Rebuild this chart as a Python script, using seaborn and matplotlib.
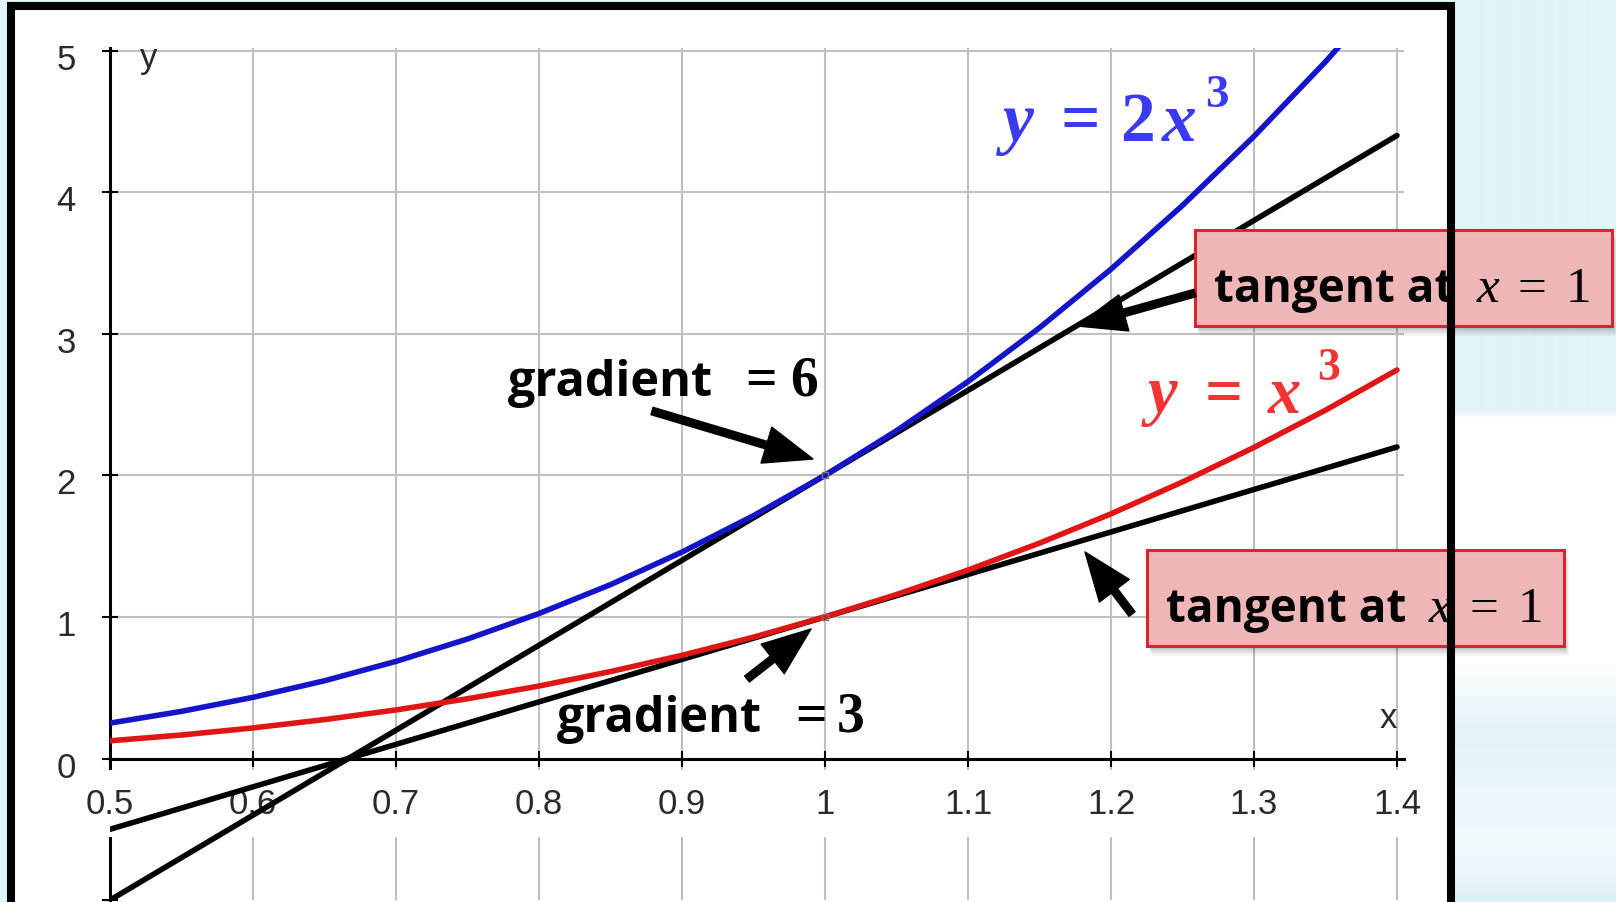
import numpy as np
import matplotlib
matplotlib.use("Agg")
import matplotlib.pyplot as plt
import seaborn as sns
from matplotlib.colors import to_rgb
from matplotlib.patches import Rectangle, FancyArrowPatch
from matplotlib.transforms import ScaledTranslation

# ---- data -------------------------------------------------------------
x_vals = [0.50, 0.55, 0.60, 0.65, 0.70, 0.75, 0.80, 0.85, 0.90, 0.95, 1.00,
          1.05, 1.10, 1.15, 1.20, 1.25, 1.30, 1.35, 1.40]
y_cube = [0.125, 0.166, 0.216, 0.275, 0.343, 0.422, 0.512, 0.614, 0.729, 0.857, 1.000,
          1.158, 1.331, 1.521, 1.728, 1.953, 2.197, 2.460, 2.744]
y_twice_cube = [0.250, 0.333, 0.432, 0.549, 0.686, 0.844, 1.024, 1.228, 1.458, 1.715, 2.000,
                2.315, 2.662, 3.042, 3.456, 3.906, 4.394, 4.921, 5.488]
tangent_x = [0.5, 1.4]
tangent_twice_cube = [-1.0, 4.4]   # y = 6x - 4, gradient 6 at x = 1
tangent_cube = [-0.5, 2.2]         # y = 3x - 2, gradient 3 at x = 1
touch_x = [1.0, 1.0]
touch_y = [2.0, 1.0]

x_ticks = [0.5, 0.6, 0.7, 0.8, 0.9, 1.0, 1.1, 1.2, 1.3, 1.4]
x_tick_labels = ["0.5", "0.6", "0.7", "0.8", "0.9", "1", "1.1", "1.2", "1.3", "1.4"]
y_ticks = [-1, 0, 1, 2, 3, 4, 5]
y_tick_labels = ["", "0", "1", "2", "3", "4", "5"]

# ---- style ------------------------------------------------------------
sns.set_theme(style="white")
plt.rcParams["font.family"] = ["Liberation Sans", "DejaVu Sans"]

W, H = 1616, 903
fig = plt.figure(figsize=(W / 100, H / 100), dpi=100)
fig.patch.set_facecolor("#e2f3f9")


def fxy(px, py):
    return px / W, 1 - py / H


# ---- slide background and white frame ---------------------------------
bg = fig.add_axes([0, 0, 1, 1], zorder=-10)
bg.set_xlim(0, W)
bg.set_ylim(H, 0)
bg.axis("off")
stops = [(0, "#e2f3f9"), (412, "#e2f3f9"), (418, "#ffffff"), (660, "#ffffff"),
         (730, "#e3f3f9"), (790, "#e9f6fb"), (850, "#f2fafd"), (885, "#e5f4f9"),
         (903, "#d9eff6")]
rows = np.arange(H)
pos = [s[0] for s in stops]
cols = np.array([to_rgb(s[1]) for s in stops])
profile = np.stack([np.interp(rows, pos, cols[:, k]) for k in range(3)], axis=-1)[:, None, :]
bg.imshow(profile, extent=[1452, W, H, 0], aspect="auto", interpolation="bilinear")
bg.add_patch(Rectangle((11, 7), 1450.5 - 11, 910 - 7, facecolor="white", edgecolor="none"))

# ---- main axes ----------------------------------------------------------
x_right = 1.405
left_px, right_px = 110, 1397 + 0.005 * 1430
top_px, bot_px = 48.7, 901.1
ax = fig.add_axes([left_px / W, 1 - bot_px / H, (right_px - left_px) / W, (bot_px - top_px) / H])
ax.patch.set_visible(False)

sns.lineplot(x=tangent_x, y=tangent_twice_cube, color="black", linewidth=4.0, ax=ax, zorder=3)
sns.lineplot(x=tangent_x, y=tangent_cube, color="black", linewidth=4.0, ax=ax, zorder=3)
sns.lineplot(x=x_vals, y=y_twice_cube, color="#1414c8", linewidth=4.0, ax=ax, zorder=4)
sns.lineplot(x=x_vals, y=y_cube, color="#e01616", linewidth=4.0, ax=ax, zorder=4)
ax.plot(touch_x, touch_y, "s", ms=5, mfc="none", mec="#777777", mew=1.0, zorder=6)

ax.set_xlim(0.5, x_right)
ax.set_ylim(-1.0, 5.02)
ax.set_xlabel("")
ax.set_ylabel("")

for s in ["top", "right"]:
    ax.spines[s].set_visible(False)
ax.spines["bottom"].set_position(("data", 0))
for s in ["left", "bottom"]:
    ax.spines[s].set_color("black")
    ax.spines[s].set_linewidth(2.2)
    ax.spines[s].set_zorder(0.4)

ax.set_xticks(x_ticks, labels=x_tick_labels)
ax.set_yticks(y_ticks, labels=y_tick_labels)
ax.grid(True, color="#c0c0c0", linewidth=1.5)
ax.tick_params(axis="x", direction="inout", length=11, width=1.5, pad=15,
               labelsize=25, labelcolor="#2a2a2a", color="black", bottom=True)
ax.tick_params(axis="y", direction="inout", length=11, width=1.5, pad=19,
               labelsize=25, labelcolor="#2a2a2a", color="black", left=True)

for t, v in zip(ax.xaxis.get_major_ticks(), x_ticks):
    if v == 0.5:
        t.gridline.set_visible(False)
for t, v in zip(ax.yaxis.get_major_ticks(), y_ticks):
    if v <= 0:
        t.gridline.set_visible(False)

for lbl in ax.get_xticklabels():
    lbl.set_bbox(dict(boxstyle="square,pad=0.5", fc="white", ec="none"))
shift = ScaledTranslation(0, -5 / 100, fig.dpi_scale_trans)
for lbl in ax.get_yticklabels():
    lbl.set_transform(lbl.get_transform() + shift)

ax.text(0.527, 4.95, "y", ha="center", va="center", fontsize=25, color="#2a2a2a")
ax.text(1.394, 0.29, "x", ha="center", va="center", fontsize=25, color="#2a2a2a")


# ---- annotations ---------------------------------------------------------
def put(px, py, s, z=21, **kw):
    x, y = fxy(px, py)
    fig.text(x, y, s, ha="left", va="baseline", zorder=z, **kw)


def arrow(p0, p1):
    fig.add_artist(FancyArrowPatch(fxy(*p0), fxy(*p1), transform=fig.transFigure,
                                   arrowstyle="simple,head_length=3.5,head_width=2.7,tail_width=0.55",
                                   mutation_scale=10, color="black", shrinkA=0, shrinkB=0,
                                   zorder=20))


serif = "Liberation Serif"
comic = "Open Sans"

# curve labels
blue = "#3a3af0"
put(1003, 141, "y", family=serif, style="italic", weight="bold", size=50, color=blue)
put(1060, 141, "=", family=serif, weight="bold", size=50, color=blue)
put(1120, 141, "2", family=serif, weight="bold", size=50, color=blue)
put(1162, 141, "x", family=serif, style="italic", weight="bold", size=50, color=blue)
put(1205, 107, "3", family=serif, weight="bold", size=34, color=blue)

red = "#f23434"
put(1148, 413, "y", family=serif, style="italic", weight="bold", size=48, color=red)
put(1205, 413, "=", family=serif, weight="bold", size=48, color=red)
put(1268, 413, "x", family=serif, style="italic", weight="bold", size=48, color=red)
put(1317, 380, "3", family=serif, weight="bold", size=33, color=red)

# gradient labels
put(508, 396, "gradient", family=comic, weight="bold", size=35, color="black")
put(745, 396, "=", family=serif, weight="bold", size=40, color="black")
put(790, 396, "6", family=serif, weight="bold", size=40, color="black")
arrow((652, 412), (813, 460))

put(557, 732, "gradient", family=comic, weight="bold", size=35, color="black")
put(795, 732, "=", family=serif, weight="bold", size=40, color="black")
put(837, 732, "3", family=serif, weight="bold", size=40, color="black")
arrow((747, 680), (811, 630))


def tangent_box(left, top):
    w, h = 417, 96
    for k, a in [(10, 0.04), (8, 0.05), (6, 0.06), (4, 0.07)]:
        fig.add_artist(Rectangle(fxy(left + 0.5 * k, top + h + k), w / W, h / H,
                                 transform=fig.transFigure, fc="black", ec="none",
                                 alpha=a, zorder=18))
    fig.add_artist(Rectangle(fxy(left, top + h), w / W, h / H, transform=fig.transFigure,
                             fc="#efb6b7", ec="#d92530", lw=2.2, zorder=19))
    base = top + 71
    put(left + 19, base, "tangent at", family=comic, weight="bold", size=33, color="black")
    put(left + 282, base, "x", family=serif, style="italic", size=37, color="black")
    put(left + 323, base, "=", family=serif, size=37, color="black")
    put(left + 370, base, "1", family=serif, size=37, color="black")


tangent_box(1195, 231)
arrow((1195, 294), (1077, 327))
tangent_box(1147, 551)
arrow((1132, 615), (1085, 553))

# dark slide frame drawn over everything
fig.add_artist(Rectangle(fxy(11, 905), (1450.5 - 11) / W, (905 - 7) / H,
                         transform=fig.transFigure, fc="none", ec="black", lw=5.8, zorder=30))

fig.savefig("out.png", dpi=100, facecolor=fig.get_facecolor())
